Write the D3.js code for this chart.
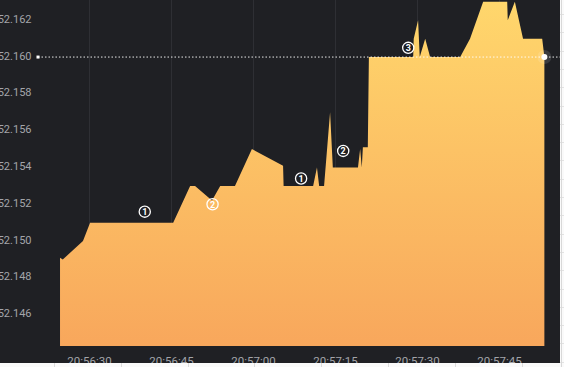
<!DOCTYPE html>
<html>
<head>
<meta charset="utf-8">
<script src="https://cdn.jsdelivr.net/npm/d3@7"></script>
<style>
  html, body { margin: 0; padding: 0; background: #fafafa; }
  svg { display: block; font-family: Roboto, "Noto Sans", sans-serif; }
</style>
</head>
<body>
<svg id="chart"></svg>
<script>
// Tick data (time of day, price)
const tickTimes = [
  "20:56:24.7", "20:56:25.2", "20:56:28.9", "20:56:30.2", "20:56:45.4",
  "20:56:48.5", "20:56:49.4", "20:56:52.5", "20:56:54.0", "20:56:56.7",
  "20:56:59.8", "20:57:05.5", "20:57:05.6", "20:57:11.0", "20:57:11.7",
  "20:57:12.1", "20:57:13.0", "20:57:14.1", "20:57:14.6", "20:57:19.2",
  "20:57:19.6", "20:57:19.9", "20:57:20.1", "20:57:21.0", "20:57:21.2",
  "20:57:29.3", "20:57:29.4", "20:57:30.2", "20:57:30.5", "20:57:31.5",
  "20:57:32.4", "20:57:37.9", "20:57:39.7", "20:57:42.1", "20:57:46.5",
  "20:57:46.6", "20:57:47.9", "20:57:49.4", "20:57:52.9", "20:57:53.3"
];
const tickPrices = [
  152.1491, 152.1490, 152.1500, 152.1510, 152.1510,
  152.1530, 152.1530, 152.1522, 152.1530, 152.1530,
  152.1550, 152.1541, 152.1530, 152.1530, 152.1540,
  152.1530, 152.1530, 152.1570, 152.1540, 152.1540,
  152.1550, 152.1540, 152.1551, 152.1551, 152.1600,
  152.1600, 152.1610, 152.1620, 152.1600, 152.1610,
  152.1600, 152.1600, 152.1610, 152.1630, 152.1630,
  152.1620, 152.1630, 152.1610, 152.1610, 152.1600
];

// Trade markers (circled numbers)
const markerLabels = ["1", "2", "1", "2", "3"];
const markerTimes = ["20:56:40.2", "20:56:52.6", "20:57:08.8", "20:57:16.5", "20:57:28.4"];
const markerPrices = [152.1516, 152.1520, 152.1534, 152.1549, 152.1605];

// Axis ticks
const xTicks = ["20:56:30", "20:56:45", "20:57:00", "20:57:15", "20:57:30", "20:57:45"];
const yTicks = [152.146, 152.148, 152.150, 152.152, 152.154, 152.156, 152.158, 152.160, 152.162];
const xDomain = ["20:56:30", "20:57:45"];
const yDomain = [152.1443, 152.1631];

const W = 564, H = 367;
const panelW = 560, panelH = 363;
const plotBottom = 346;

function toDate(s) {
  const p = s.split(":");
  const sec = +p[2];
  return new Date(2024, 9, 30, +p[0], +p[1], 0, Math.round(sec * 1000));
}

const data = tickTimes.map((t, i) => ({ time: toDate(t), price: tickPrices[i] }));
const markers = markerLabels.map((l, i) => ({ label: l, time: toDate(markerTimes[i]), price: markerPrices[i] }));

const svg = d3.select("#chart").attr("width", W).attr("height", H);

// light page strips around the dark panel
svg.append("rect").attr("width", W).attr("height", H).attr("fill", "#fafafa");
const strip = svg.append("g").attr("stroke", "#e3e3e3").attr("stroke-width", 1);
d3.range(14, H, 18.3).forEach(v => {
  strip.append("line").attr("x1", panelW).attr("x2", W).attr("y1", Math.round(v) + 0.5).attr("y2", Math.round(v) + 0.5);
});
svg.append("line").attr("x1", 561.5).attr("x2", 561.5).attr("y1", 0).attr("y2", H).attr("stroke", "#d8d8d8");

// dark panel
svg.append("rect").attr("width", panelW).attr("height", panelH).attr("fill", "#1f2024");

// Scales
const x = d3.scaleTime().domain(xDomain.map(toDate)).range([89, 499]);
const y = d3.scaleLinear().domain(yDomain).range([plotBottom, 0]);

const defs = svg.append("defs");
defs.append("clipPath").attr("id", "clip")
  .append("rect").attr("width", panelW).attr("height", panelH);

const grad = defs.append("linearGradient").attr("id", "areaGrad")
  .attr("gradientUnits", "userSpaceOnUse")
  .attr("x1", 0).attr("x2", 0).attr("y1", 0).attr("y2", plotBottom);
grad.append("stop").attr("offset", "0%").attr("stop-color", "#ffd76c");
grad.append("stop").attr("offset", "100%").attr("stop-color", "#f8a75c");

const panel = svg.append("g").attr("clip-path", "url(#clip)");

// vertical grid
panel.append("g")
  .attr("transform", `translate(0,${plotBottom})`)
  .call(d3.axisBottom(x).tickValues(xTicks.map(toDate)).tickSize(-plotBottom).tickFormat(""))
  .call(g => g.select(".domain").remove())
  .call(g => g.selectAll("line").attr("stroke", "#2e2f34"));

// area
const area = d3.area()
  .x(d => x(d.time))
  .y0(y(yDomain[0]))
  .y1(d => y(d.price))
  .curve(d3.curveLinear);

panel.append("path")
  .datum(data)
  .attr("d", area)
  .attr("fill", "url(#areaGrad)");

// current price line
const last = data[data.length - 1];
panel.append("line")
  .attr("x1", 38).attr("x2", panelW)
  .attr("y1", y(last.price)).attr("y2", y(last.price))
  .attr("stroke", "#ffffff").attr("stroke-opacity", 0.9)
  .attr("stroke-dasharray", "1.5,2");
panel.append("rect")
  .attr("x", 36.5).attr("y", y(last.price) - 1.5)
  .attr("width", 3).attr("height", 3).attr("fill", "#fff");
panel.append("circle")
  .attr("cx", x(last.time)).attr("cy", y(last.price)).attr("r", 7)
  .attr("fill", "#ffffff").attr("fill-opacity", 0.12);
panel.append("circle")
  .attr("cx", x(last.time)).attr("cy", y(last.price)).attr("r", 3)
  .attr("fill", "#ffffff");

// markers
const mk = panel.selectAll(".marker").data(markers).enter()
  .append("g").attr("class", "marker")
  .attr("transform", d => `translate(${x(d.time)},${y(d.price)})`);
mk.append("circle").attr("r", 5.6)
  .attr("fill", "none").attr("stroke", "#ffffff").attr("stroke-width", 1.3);
mk.append("text")
  .attr("text-anchor", "middle").attr("dy", "0.36em")
  .attr("font-size", 9).attr("font-weight", "bold")
  .attr("fill", "#ffffff")
  .text(d => d.label);

// y axis labels
svg.append("g")
  .attr("transform", "translate(31.5,-1.5)")
  .call(d3.axisLeft(y).tickValues(yTicks).tickSize(0).tickPadding(0).tickFormat(d3.format(".3f")))
  .call(g => g.select(".domain").remove())
  .call(g => g.selectAll("text").attr("fill", "#a3a5aa").attr("font-size", 11).attr("font-family", "Roboto, sans-serif"));

// x axis labels
svg.append("g")
  .attr("transform", `translate(0,${plotBottom})`)
  .call(d3.axisBottom(x).tickValues(xTicks.map(toDate)).tickSize(0).tickPadding(11).tickFormat(d3.timeFormat("%H:%M:%S")))
  .call(g => g.select(".domain").remove())
  .call(g => g.selectAll("text").attr("fill", "#a3a5aa").attr("font-size", 11.5).attr("font-family", "Roboto, sans-serif"));

// page strip at bottom covers the label baseline
svg.append("rect").attr("x", 0).attr("y", panelH).attr("width", panelW).attr("height", H - panelH).attr("fill", "#fafafa");
d3.range(54, panelW, 66.8).forEach(v => {
  svg.append("line").attr("x1", Math.round(v) + 0.5).attr("x2", Math.round(v) + 0.5)
    .attr("y1", panelH).attr("y2", H).attr("stroke", "#dcdcdc");
});
</script>
</body>
</html>
